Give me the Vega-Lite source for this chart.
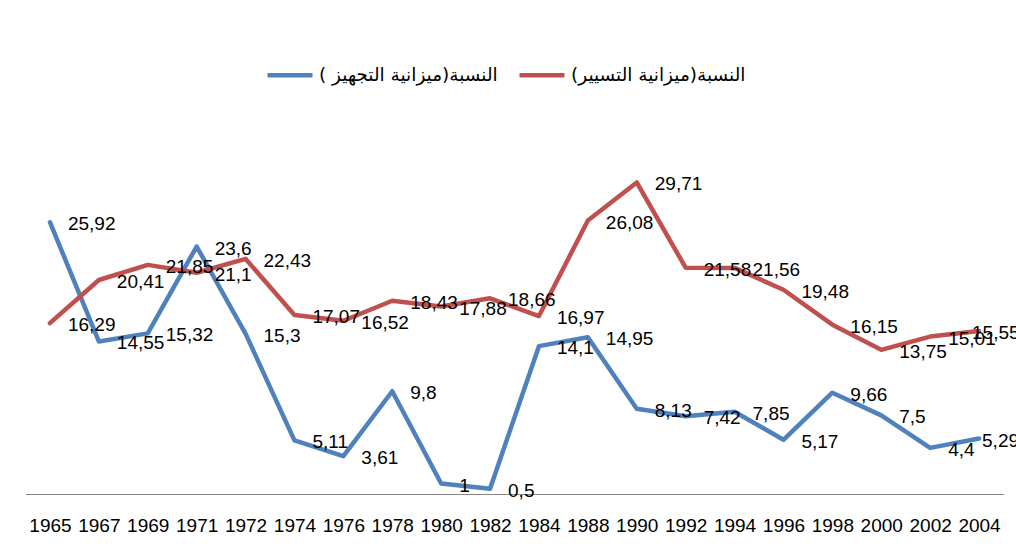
{
  "$schema": "https://vega.github.io/schema/vega-lite/v6.json",
  "autosize": {"type": "none"},
  "padding": {"left": 25.5, "top": 127, "right": 12.5, "bottom": 59},
  "width": 978,
  "height": 367,
  "background": "white",
  "config": {
    "locale": {"number": {"decimal": ",", "thousands": ".", "grouping": [3], "currency": ["", ""]}},
    "view": {"stroke": null},
    "font": "Liberation Sans"
  },
  "data": {
    "values": [
      {"year": "1965", "series": "النسبة(ميزانية التجهيز )", "value": 25.92},
      {"year": "1967", "series": "النسبة(ميزانية التجهيز )", "value": 14.55},
      {"year": "1969", "series": "النسبة(ميزانية التجهيز )", "value": 15.32},
      {"year": "1971", "series": "النسبة(ميزانية التجهيز )", "value": 23.6},
      {"year": "1972", "series": "النسبة(ميزانية التجهيز )", "value": 15.3},
      {"year": "1974", "series": "النسبة(ميزانية التجهيز )", "value": 5.11},
      {"year": "1976", "series": "النسبة(ميزانية التجهيز )", "value": 3.61},
      {"year": "1978", "series": "النسبة(ميزانية التجهيز )", "value": 9.8},
      {"year": "1980", "series": "النسبة(ميزانية التجهيز )", "value": 1},
      {"year": "1982", "series": "النسبة(ميزانية التجهيز )", "value": 0.5},
      {"year": "1984", "series": "النسبة(ميزانية التجهيز )", "value": 14.1},
      {"year": "1988", "series": "النسبة(ميزانية التجهيز )", "value": 14.95},
      {"year": "1990", "series": "النسبة(ميزانية التجهيز )", "value": 8.13},
      {"year": "1992", "series": "النسبة(ميزانية التجهيز )", "value": 7.42},
      {"year": "1994", "series": "النسبة(ميزانية التجهيز )", "value": 7.85},
      {"year": "1996", "series": "النسبة(ميزانية التجهيز )", "value": 5.17},
      {"year": "1998", "series": "النسبة(ميزانية التجهيز )", "value": 9.66},
      {"year": "2000", "series": "النسبة(ميزانية التجهيز )", "value": 7.5},
      {"year": "2002", "series": "النسبة(ميزانية التجهيز )", "value": 4.4},
      {"year": "2004", "series": "النسبة(ميزانية التجهيز )", "value": 5.29},
      {"year": "1965", "series": "النسبة(ميزانية التسيير)", "value": 16.29},
      {"year": "1967", "series": "النسبة(ميزانية التسيير)", "value": 20.41},
      {"year": "1969", "series": "النسبة(ميزانية التسيير)", "value": 21.85},
      {"year": "1971", "series": "النسبة(ميزانية التسيير)", "value": 21.1},
      {"year": "1972", "series": "النسبة(ميزانية التسيير)", "value": 22.43},
      {"year": "1974", "series": "النسبة(ميزانية التسيير)", "value": 17.07},
      {"year": "1976", "series": "النسبة(ميزانية التسيير)", "value": 16.52},
      {"year": "1978", "series": "النسبة(ميزانية التسيير)", "value": 18.43},
      {"year": "1980", "series": "النسبة(ميزانية التسيير)", "value": 17.88},
      {"year": "1982", "series": "النسبة(ميزانية التسيير)", "value": 18.66},
      {"year": "1984", "series": "النسبة(ميزانية التسيير)", "value": 16.97},
      {"year": "1988", "series": "النسبة(ميزانية التسيير)", "value": 26.08},
      {"year": "1990", "series": "النسبة(ميزانية التسيير)", "value": 29.71},
      {"year": "1992", "series": "النسبة(ميزانية التسيير)", "value": 21.58},
      {"year": "1994", "series": "النسبة(ميزانية التسيير)", "value": 21.56},
      {"year": "1996", "series": "النسبة(ميزانية التسيير)", "value": 19.48},
      {"year": "1998", "series": "النسبة(ميزانية التسيير)", "value": 16.15},
      {"year": "2000", "series": "النسبة(ميزانية التسيير)", "value": 13.75},
      {"year": "2002", "series": "النسبة(ميزانية التسيير)", "value": 15.01},
      {"year": "2004", "series": "النسبة(ميزانية التسيير)", "value": 15.55}
    ]
  },
  "encoding": {
    "x": {
      "field": "year", "type": "ordinal", "sort": null,
      "scale": {"type": "point", "padding": 0.5},
      "axis": {
        "title": null, "labelAngle": 0, "ticks": false, "grid": false,
        "domainColor": "#868686", "domainWidth": 1,
        "labelFont": "Liberation Sans", "labelFontSize": 19, "labelColor": "#000000",
        "labelPadding": 22
      }
    },
    "y": {
      "field": "value", "type": "quantitative",
      "scale": {"domain": [0, 35], "nice": false, "zero": true},
      "axis": null
    }
  },
  "layer": [
    {
      "mark": {"type": "line", "strokeWidth": 4.5, "strokeJoin": "round", "strokeCap": "round"},
      "encoding": {
        "color": {
          "field": "series", "type": "nominal",
          "scale": {
            "domain": ["النسبة(ميزانية التجهيز )", "النسبة(ميزانية التسيير)"],
            "range": ["#4F81BD", "#C0504D"]
          },
          "legend": {
            "title": null, "orient": "none", "direction": "horizontal",
            "legendX": 239.5, "legendY": -77,
            "symbolType": "stroke", "symbolSize": 2025, "symbolStrokeWidth": 4.5,
            "labelFont": "DejaVu Sans", "labelFontSize": 18.5, "labelColor": "#000000",
            "labelOffset": 4, "columnPadding": 12, "labelLimit": 400, "padding": 0,
            "labelExpr": "datum.label + '\u200f'"
          }
        }
      }
    },
    {
      "transform": [{"filter": "datum.year != '2004'"}],
      "mark": {"type": "text", "align": "left", "baseline": "middle", "dx": 18, "dy": 2, "fontSize": 19, "font": "Liberation Sans", "color": "#000000"},
      "encoding": {
        "text": {"field": "value", "type": "quantitative", "format": "~g"},
        "detail": {"field": "series", "type": "nominal"}
      }
    },
    {
      "transform": [{"filter": "datum.year == '2004' && datum.series == 'النسبة(ميزانية التجهيز )'"}],
      "mark": {"type": "text", "align": "left", "baseline": "middle", "dx": 3, "dy": 2, "fontSize": 19, "font": "Liberation Sans", "color": "#000000"},
      "encoding": {
        "text": {"field": "value", "type": "quantitative", "format": "~g"}
      }
    },
    {
      "transform": [{"filter": "datum.year == '2004' && datum.series == 'النسبة(ميزانية التسيير)'"}],
      "mark": {"type": "text", "align": "left", "baseline": "middle", "dx": -7, "dy": 2, "fontSize": 19, "font": "Liberation Sans", "color": "#000000"},
      "encoding": {
        "text": {"field": "value", "type": "quantitative", "format": "~g"}
      }
    }
  ]
}
